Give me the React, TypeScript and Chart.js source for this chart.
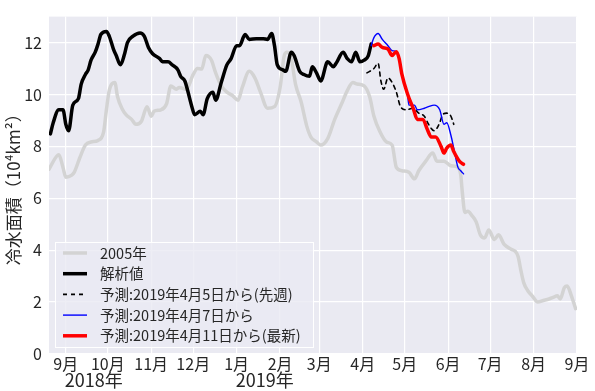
import React, { useEffect, useRef } from 'react';
import { Chart, registerables } from 'chart.js';

Chart.register(...registerables);

// x values: days since 2018-09-01
const monthTickDays = [0, 30, 61, 91, 122, 153, 181, 212, 242, 273, 303, 334, 365];
const monthTickLabels = ['9月', '10月', '11月', '12月', '1月', '2月', '3月', '4月', '5月', '6月', '7月', '8月', '9月'];
const yearLabelDays = [0, 122];
const yearLabels = ['2018年', '2019年'];
const yTicks = [0, 2, 4, 6, 8, 10, 12];
const yTitle = '冷水面積（10⁴km²）';
const seriesNames = ['2005年', '解析値', '予測:2019年4月5日から(先週)', '予測:2019年4月7日から', '予測:2019年4月11日から(最新)'];

const days2005 = [-12, -5, -2, 0, 4, 6, 10, 14, 18, 23, 27, 29, 31, 35, 37, 40, 43, 47, 50, 54, 58, 61, 63, 68, 72, 75, 79, 81, 86, 91, 94, 97, 100, 104, 107, 111, 115, 119, 123, 126, 131, 135, 139, 144, 149, 153, 156, 158, 161, 164, 168, 172, 175, 179, 182, 187, 192, 197, 201, 205, 208, 213, 217, 220, 224, 229, 233, 236, 240, 245, 249, 252, 257, 262, 265, 270, 275, 280, 282, 283, 285, 287, 290, 293, 296, 299, 302, 306, 309, 313, 318, 321, 323, 325, 327, 330, 333, 337, 341, 345, 348, 351, 353, 356, 358, 361, 364];
const values2005 = [7.12, 7.68, 7.19, 6.81, 6.88, 7.0, 7.56, 8.05, 8.17, 8.23, 8.56, 9.41, 10.15, 10.46, 9.9, 9.47, 9.22, 9.04, 8.85, 8.97, 9.53, 9.16, 9.35, 9.41, 9.65, 10.33, 10.2, 10.27, 10.2, 10.77, 11.0, 10.98, 11.5, 11.32, 10.83, 10.33, 10.09, 9.96, 9.78, 10.27, 10.89, 10.64, 10.09, 9.47, 9.53, 10.27, 11.5, 11.63, 11.38, 10.4, 9.72, 8.79, 8.36, 8.17, 8.05, 8.3, 9.04, 9.65, 10.15, 10.46, 10.4, 10.33, 9.9, 9.16, 8.6, 8.17, 8.05, 7.19, 7.06, 7.0, 6.75, 7.06, 7.43, 7.74, 7.43, 7.43, 7.25, 7.19, 6.9, 6.3, 5.45, 5.5, 5.33, 5.09, 4.59, 4.47, 4.78, 4.41, 4.59, 4.22, 4.04, 3.95, 3.75, 3.2, 2.74, 2.43, 2.24, 2.0, 2.06, 2.12, 2.18, 2.24, 2.12, 2.56, 2.62, 2.24, 1.75];

const daysAnalysis = [-11, -9, -5, -2, 0, 2, 5, 9, 11, 14, 16, 18, 21, 23, 25, 29, 31, 34, 36, 39, 42, 44, 48, 53, 56, 59, 62, 67, 69, 73, 76, 80, 82, 85, 87, 90, 92, 96, 98, 101, 105, 107, 111, 115, 118, 122, 124, 128, 131, 136, 141, 144, 147, 149, 151, 155, 157, 161, 163, 167, 170, 174, 176, 179, 182, 187, 191, 193, 198, 201, 204, 207, 210, 213, 216, 218];
const valuesAnalysis = [8.48, 8.91, 9.41, 9.41, 8.85, 8.6, 9.59, 9.84, 10.4, 10.77, 10.95, 11.32, 11.63, 11.94, 12.31, 12.43, 12.25, 11.75, 11.5, 11.14, 11.57, 12.0, 12.25, 12.37, 12.25, 11.81, 11.57, 11.38, 11.26, 11.26, 11.14, 10.95, 10.7, 10.52, 10.15, 9.53, 9.22, 9.35, 9.22, 9.84, 10.09, 9.78, 10.46, 11.14, 11.38, 11.88, 11.88, 12.31, 12.12, 12.15, 12.15, 12.12, 12.35, 11.88, 11.14, 10.95, 10.89, 11.63, 11.5, 10.89, 10.77, 10.7, 11.07, 10.83, 10.52, 11.26, 11.07, 11.2, 11.63, 11.38, 11.26, 11.63, 11.26, 11.32, 11.5, 11.94];

const daysFcst0405 = [215, 220, 223, 225, 227, 230, 233, 236, 239, 243, 248, 252, 256, 259, 263, 267, 269, 272, 275, 277];
const valuesFcst0405 = [10.83, 11.0, 11.2, 10.52, 10.2, 10.64, 10.46, 10.09, 9.53, 9.41, 9.47, 9.28, 9.16, 8.85, 8.6, 8.91, 9.22, 9.28, 9.16, 8.85];

const daysFcst0407 = [218, 220, 223, 226, 230, 233, 236, 238, 240, 244, 245, 249, 251, 256, 259, 263, 267, 270, 272, 275, 277, 280, 282, 284];
const valuesFcst0407 = [11.88, 12.19, 12.35, 12.12, 11.88, 11.69, 11.65, 11.4, 10.77, 10.0, 9.59, 9.59, 9.41, 9.47, 9.53, 9.59, 9.41, 8.85, 8.91, 8.42, 7.93, 7.19, 7.06, 6.94];

const daysFcst0411 = [220, 223, 226, 230, 233, 236, 238, 240, 244, 248, 251, 255, 258, 261, 264, 268, 270, 272, 275, 277, 281, 284];
const valuesFcst0411 = [11.88, 11.94, 11.81, 11.75, 11.5, 11.65, 11.38, 10.77, 10.02, 9.47, 9.04, 9.04, 8.67, 8.36, 8.36, 7.99, 7.74, 7.93, 8.05, 7.8, 7.43, 7.31];

const FONT = '"Noto Sans CJK JP", "DejaVu Sans", sans-serif';
const TEXT = '#262626';

const toPoints = (xs: number[], ys: number[]) => xs.map((x, i) => ({ x, y: ys[i] }));

const bgPlugin = {
  id: 'bgPlugin',
  beforeDraw(chart: any) {
    const { ctx, chartArea } = chart;
    ctx.save();
    ctx.fillStyle = '#EAEAF2';
    ctx.fillRect(chartArea.left, chartArea.top, chartArea.right - chartArea.left, chartArea.bottom - chartArea.top);
    ctx.restore();
  },
};

const extrasPlugin = {
  id: 'extrasPlugin',
  afterDraw(chart: any) {
    const { ctx } = chart;
    const xs = chart.scales.x;
    ctx.save();
    // year labels
    ctx.fillStyle = TEXT;
    ctx.font = `18px ${FONT}`;
    ctx.textAlign = 'left';
    ctx.textBaseline = 'middle';
    yearLabels.forEach((t, i) => {
      ctx.fillText(t, xs.getPixelForValue(yearLabelDays[i]) - 1, 380);
    });
    // legend
    const x0 = 55, y0 = 242, w = 258, h = 105;
    ctx.fillStyle = 'rgba(234,234,242,0.8)';
    ctx.fillRect(x0, y0, w, h);
    ctx.strokeStyle = '#ffffff';
    ctx.lineWidth = 1;
    ctx.strokeRect(x0 + 0.5, y0 + 0.5, w, h);
    ctx.font = `14.5px ${FONT}`;
    chart.data.datasets.forEach((ds: any, i: number) => {
      const cy = y0 + 11 + i * 20.7;
      ctx.beginPath();
      ctx.strokeStyle = ds.borderColor;
      ctx.lineWidth = ds.borderWidth;
      ctx.setLineDash(ds.borderDash || []);
      ctx.moveTo(63, cy);
      ctx.lineTo(87, cy);
      ctx.stroke();
      ctx.setLineDash([]);
      ctx.fillStyle = TEXT;
      ctx.fillText(ds.label, 100, cy);
    });
    ctx.restore();
  },
};

export default function App() {
  const ref = useRef<HTMLCanvasElement | null>(null);
  useEffect(() => {
    document.body.style.margin = '0';
    const canvas = ref.current!;
    const chart = new Chart(canvas, {
      type: 'line',
      data: {
        datasets: [
          { label: seriesNames[0], data: toPoints(days2005, values2005), borderColor: '#d3d3d3', borderWidth: 3.5, order: 5 },
          { label: seriesNames[1], data: toPoints(daysAnalysis, valuesAnalysis), borderColor: '#000000', borderWidth: 3.5, order: 4 },
          { label: seriesNames[2], data: toPoints(daysFcst0405, valuesFcst0405), borderColor: '#000000', borderWidth: 1.6, borderDash: [4, 4], order: 3 },
          { label: seriesNames[3], data: toPoints(daysFcst0407, valuesFcst0407), borderColor: '#0000ff', borderWidth: 1.4, order: 2 },
          { label: seriesNames[4], data: toPoints(daysFcst0411, valuesFcst0411), borderColor: '#ff0000', borderWidth: 3.5, order: 1 },
        ] as any,
      },
      options: {
        animation: false,
        responsive: false,
        events: [],
        parsing: false as any,
        elements: { point: { radius: 0 }, line: { cubicInterpolationMode: 'monotone', borderCapStyle: 'round', borderJoinStyle: 'round' } },
        layout: { padding: { left: 0, top: 3, right: 18, bottom: 0 } },
        plugins: { legend: { display: false }, tooltip: { enabled: false } },
        scales: {
          x: {
            type: 'linear',
            min: -12,
            max: 365,
            afterBuildTicks: (s: any) => { s.ticks = monthTickDays.map((v) => ({ value: v })); },
            afterFit: (s: any) => { s.height = 37; },
            ticks: {
              autoSkip: false,
              maxRotation: 0,
              padding: 0,
              color: TEXT,
              font: { family: FONT, size: 16 },
              callback: (v: any) => monthTickLabels[monthTickDays.indexOf(Number(v))] ?? '',
            },
            grid: { color: '#ffffff', lineWidth: 1.2, drawTicks: false },
            border: { display: false },
          },
          y: {
            type: 'linear',
            min: 0,
            max: 13,
            afterBuildTicks: (s: any) => { s.ticks = yTicks.map((v) => ({ value: v })); },
            afterFit: (s: any) => { s.width = 49; },
            ticks: { padding: 7, color: TEXT, font: { family: FONT, size: 16 } },
            grid: { color: '#ffffff', lineWidth: 1.2, drawTicks: false },
            border: { display: false },
            title: { display: true, text: yTitle, color: TEXT, font: { family: FONT, size: 17 }, padding: { top: 3, bottom: 0 } },
          },
        },
      } as any,
      plugins: [bgPlugin, extrasPlugin],
    });
    return () => chart.destroy();
  }, []);
  return <canvas ref={ref} width={595} height={391} style={{ display: 'block' }} />;
}
